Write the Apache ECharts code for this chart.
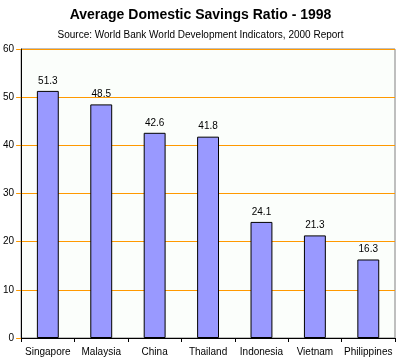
<!DOCTYPE html>
<html>
<head>
<meta charset="utf-8">
<script src="https://cdn.jsdelivr.net/npm/echarts@6/dist/echarts.min.js"></script>
<style>html,body{margin:0;padding:0;background:#fff}#c{width:401px;height:359px}</style>
</head>
<body>
<div id="c"></div>
<script>
const categories = ['Singapore', 'Malaysia', 'China', 'Thailand', 'Indonesia', 'Vietnam', 'Philippines'];
const savingsRatio = [51.3, 48.5, 42.6, 41.8, 24.1, 21.3, 16.3];
const yTicks = [0, 10, 20, 30, 40, 50, 60];
const titleText = 'Average Domestic Savings Ratio - 1998';
const subtitleText = 'Source: World Bank World Development Indicators, 2000 Report';

const chart = echarts.init(document.getElementById('c'), null, {renderer: 'canvas'});
chart.setOption({
  animation: false,
  backgroundColor: '#ffffff',
  title: [
    {text: titleText, left: 'center', top: 3,
     textStyle: {fontFamily: 'Liberation Sans, Arial', fontSize: 14, fontWeight: 'bold', color: '#000'}},
    {text: subtitleText, left: 'center', top: 25,
     textStyle: {fontFamily: 'Liberation Sans, Arial', fontSize: 10, fontWeight: 'normal', color: '#000'}}
  ],
  grid: {left: 20, right: 6, top: 49, bottom: 21, show: true, backgroundColor: '#fbfefb',
         borderColor: '#808080', borderWidth: 1, containLabel: false},
  xAxis: {
    type: 'category', data: categories,
    axisLine: {lineStyle: {color: '#000', width: 1}},
    axisTick: {show: true, length: 4, interval: 0, lineStyle: {color: '#000'}},
    axisLabel: {interval: 0, fontFamily: 'Liberation Sans Narrow, Liberation Sans', fontSize: 10, color: '#000', margin: 9},
    splitLine: {show: false}
  },
  yAxis: {
    type: 'value', min: yTicks[0], max: yTicks[yTicks.length - 1], interval: yTicks[1] - yTicks[0],
    axisLine: {show: true, lineStyle: {color: '#000', width: 1}},
    axisTick: {show: true, length: 5, lineStyle: {color: '#ff9900', width: 1}},
    axisLabel: {fontFamily: 'Liberation Sans, Arial', fontSize: 10, color: '#000', margin: 7},
    splitLine: {show: true, lineStyle: {color: '#ff9900', width: 1}}
  },
  series: [{
    type: 'bar', data: savingsRatio, barWidth: '41%',
    itemStyle: {color: '#9999ff', borderColor: '#000', borderWidth: 1},
    label: {show: true, position: 'top', distance: 5, fontFamily: 'Liberation Sans, Arial', fontSize: 10, color: '#000',
            formatter: p => p.value.toFixed(1)}
  }]
});
</script>
</body>
</html>
